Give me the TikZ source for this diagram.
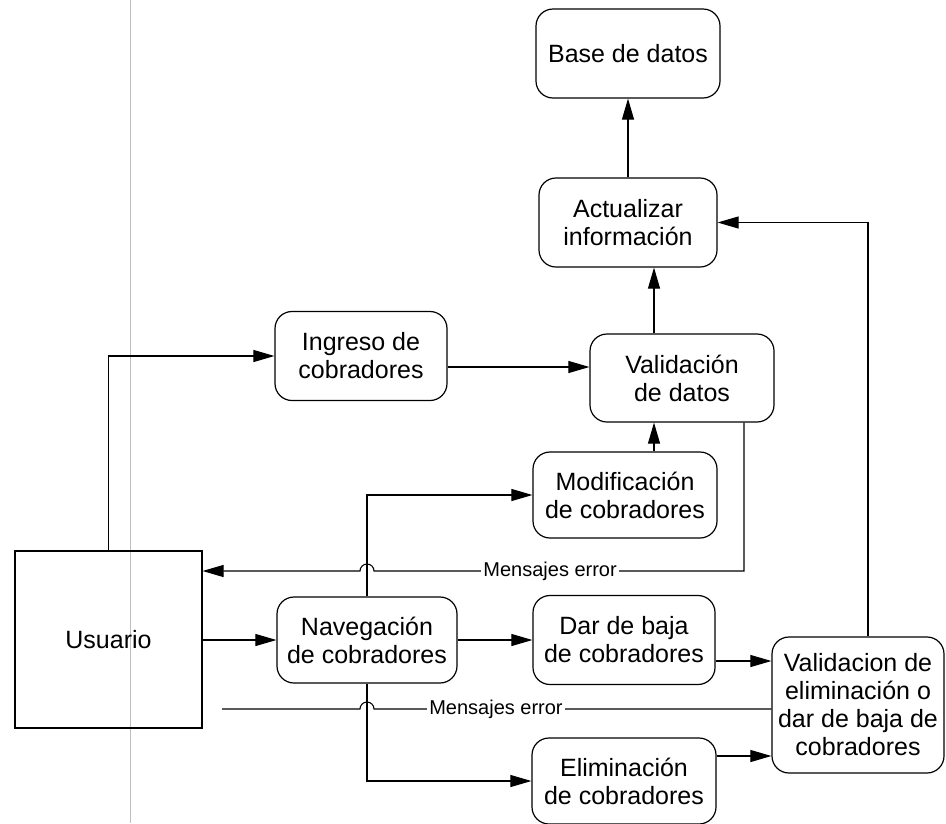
\documentclass[tikz,border=0pt]{standalone}
\usepackage{fontspec}
\setmainfont{Liberation Sans}
\usetikzlibrary{arrows.meta}
\begin{document}
\begin{tikzpicture}[x=1pt,y=-1pt,
  proc/.style={draw,line width=1.2pt,rounded corners=17pt,align=center,inner sep=0pt,
    font=\fontsize{25}{28}\selectfont},
  actor/.style={draw,line width=1.1pt,font=\fontsize{25}{28}\selectfont,
    minimum width=187pt,minimum height=177pt},
  flow/.style={line width=1.1pt,-{Triangle[length=21pt,width=12pt]}},
  wire/.style={line width=1.1pt},
  msg/.style={fill=white,inner sep=2pt,font=\fontsize{20}{24}\selectfont},
  fold/.style={draw=black!25,line width=1pt}]
\useasboundingbox (0,0) rectangle (946,823);

% faint vertical rule
\draw[fold] (130,0) -- (130,823);

% processes
\node[proc,minimum width=184pt,minimum height=89pt] (base) at (628,53.5) {Base de datos};
\node[proc,minimum width=178pt,minimum height=89pt] (act) at (628,222.5) {Actualizar\\información};
\node[proc,minimum width=172pt,minimum height=89pt] (ing) at (361,356) {Ingreso de\\cobradores};
\node[proc,minimum width=184pt,minimum height=88pt] (val) at (682,378) {Validación\\de datos};
\node[proc,minimum width=184pt,minimum height=86pt] (mod) at (625,495) {Modificación\\de cobradores};
\node[actor] (usr) at (108.5,639.5) {Usuario};
\node[proc,minimum width=180pt,minimum height=86pt] (nav) at (367,640) {Navegación\\de cobradores};
\node[proc,minimum width=182pt,minimum height=89pt] (baja) at (624,640) {Dar de baja\\de cobradores};
\node[proc,minimum width=172pt,minimum height=136pt] (valel) at (858,705) {Validacion de\\eliminación o\\dar de baja de\\cobradores};
\node[proc,minimum width=184pt,minimum height=86pt] (elim) at (624,781) {Eliminación\\de cobradores};

% free corners of the message lines
\coordinate (e1) at (744,571);
\coordinate (e2) at (222,709);

% flows
\draw[flow] (usr.north) |- (ing.west);
\draw[flow] ([yshift=-11pt]ing.east) -- ([yshift=11pt]val.west);
\draw[flow] ([xshift=-28pt]val.north) -- ([xshift=-28pt]val.north |- act.south);
\draw[flow] (act.north) -- (base.south);
\draw[flow] ([xshift=-28pt]val.south |- mod.north) -- ([xshift=-28pt]val.south);
\draw[flow] (usr.east |- nav.west) -- (nav.west);
\draw[flow] (nav.north) |- (mod.west);
\draw[flow] (nav.east) -- (baja.west);
\draw[flow] (nav.south) |- (elim.west);
\draw[flow] ([yshift=-21pt]baja.east) -- ([yshift=-21pt]valel.west |- baja.east);
\draw[flow] ([yshift=25pt]elim.east) -- ([yshift=25pt]valel.west |- elim.east);
\draw[flow] ([xshift=10pt]valel.north) |- (act.east);

% error messages, hopping over the navigation line
\draw[flow] (e1 |- val.south) -- (e1)
  -- node[msg,pos=0.524] {Mensajes error} ([xshift=7pt]nav.north |- e1)
  arc[start angle=0,end angle=180,radius=7pt] -- (usr.east |- e1);
\draw[wire] (valel.west |- e2)
  -- node[msg,pos=0.693] {Mensajes error} ([xshift=7pt]nav.south |- e2)
  arc[start angle=0,end angle=180,radius=7pt] -- (e2);
\end{tikzpicture}
\end{document}
